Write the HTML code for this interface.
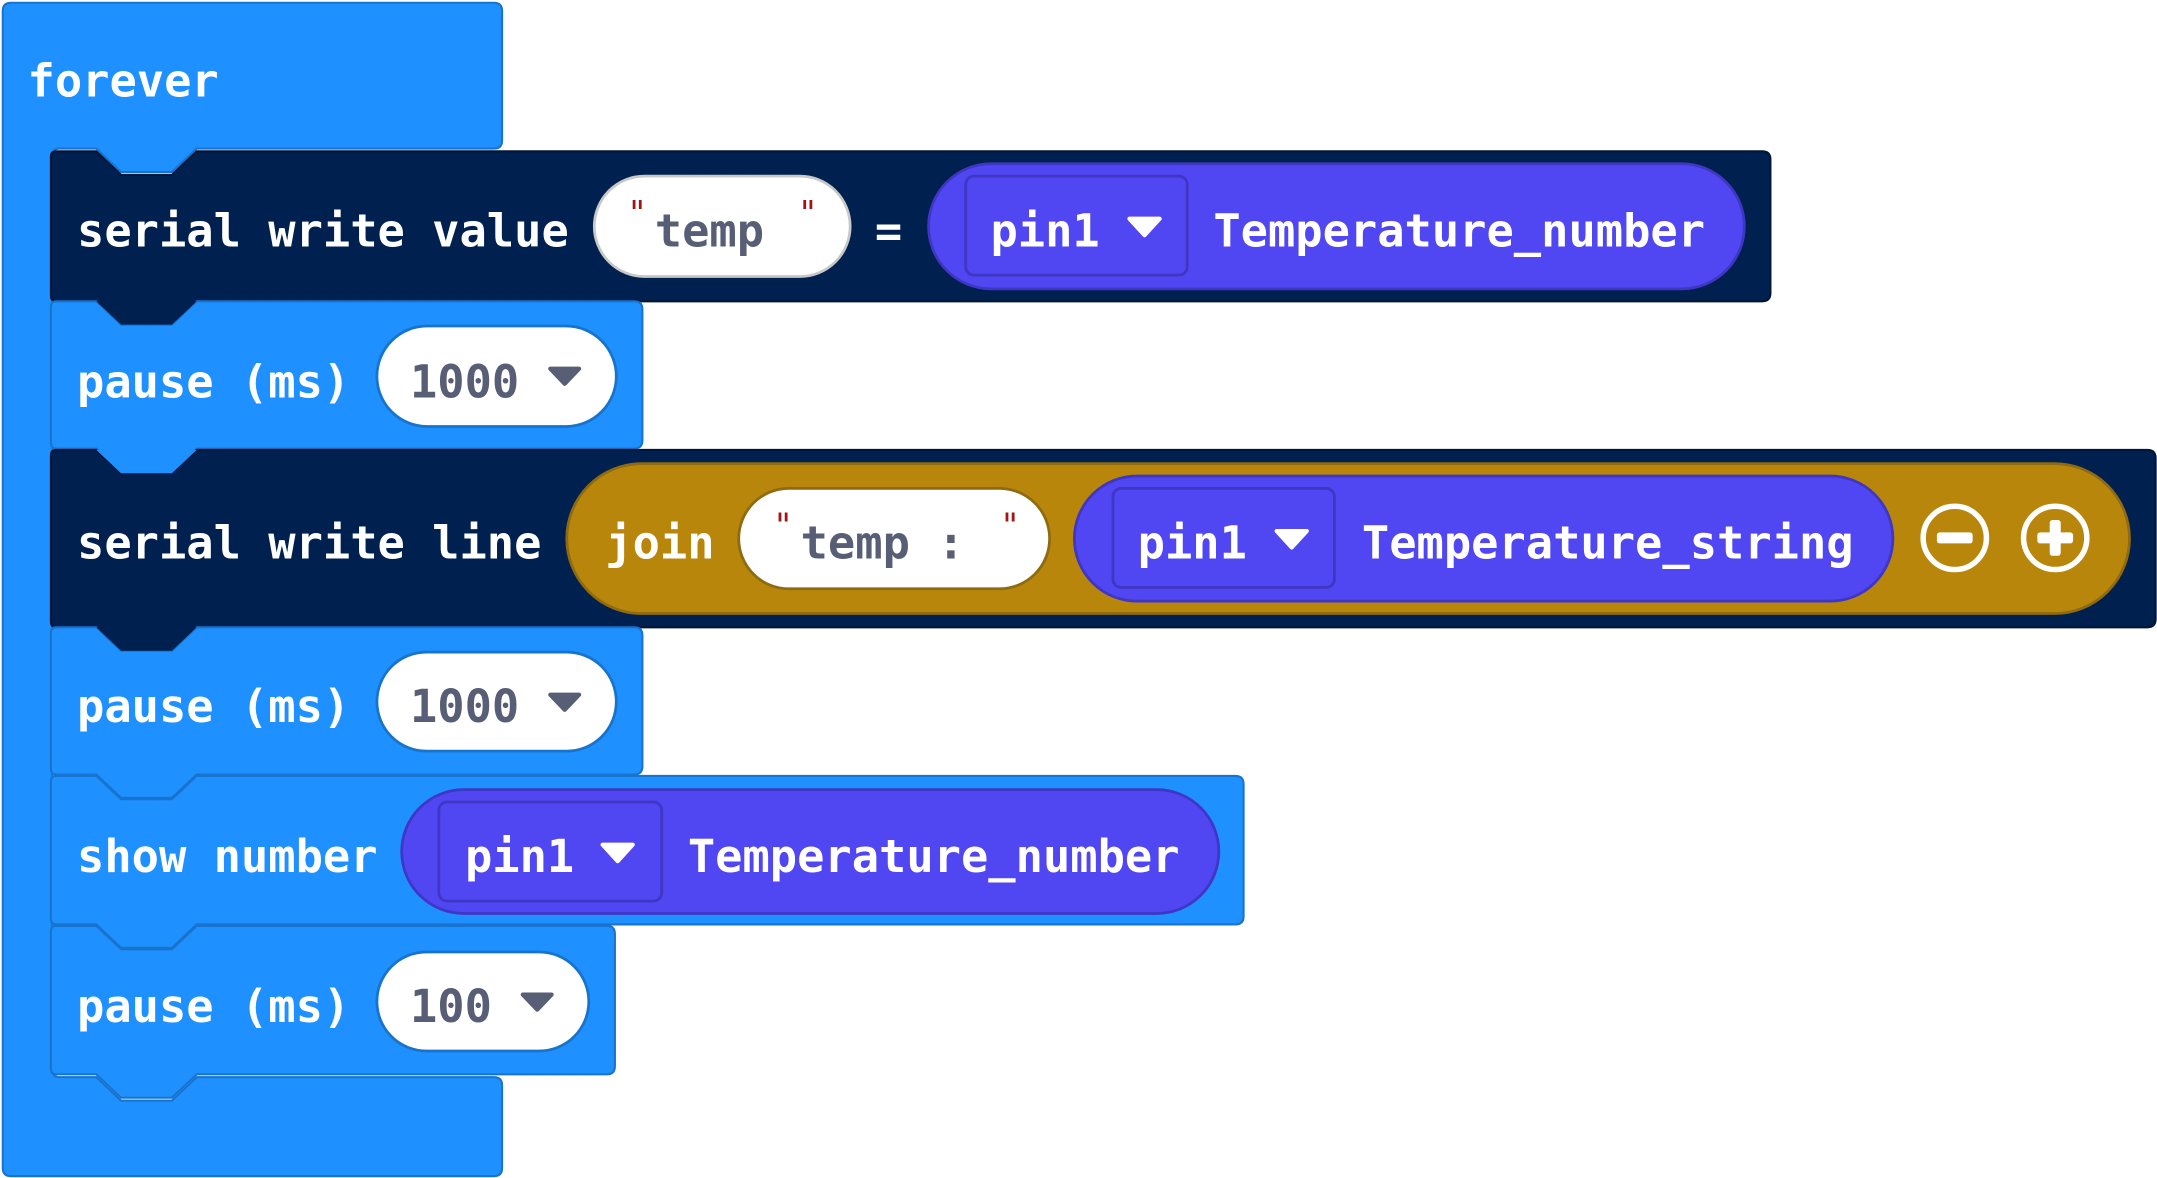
<!DOCTYPE html>
<html><head><meta charset="utf-8"><style>
html,body{margin:0;padding:0;background:#fff;}
svg{display:block;}
text{font-family:"DejaVu Sans Mono","Liberation Mono",monospace;font-weight:bold;font-size:33px;}
.w{fill:#fff;}
.g{fill:#575e75;}
.q{fill:#a31515;font-size:24px;font-weight:normal;}
</style></head><body>
<svg width="2157" height="1178" viewBox="0 0 1568 856.3" xmlns="http://www.w3.org/2000/svg">
<!-- forever -->
<path d="M2,8 Q2,2 8,2 L359,2 Q365,2 365,8 L365,102 Q365,108 359,108 L143,108 L125,125 L88,125 L70,108 L43,108 Q38,108 38,114 L38,777 Q38,783 43,783 L70,783 L88,800 L125,800 L143,783 L359,783 Q365,783 365,789 L365,849 Q365,855 359,855 L8,855 Q2,855 2,849 Z" fill="#1e90ff" stroke="#1873cc" stroke-width="1.5"/>
<text x="20" y="70" class="w">forever</text>

<!-- serial write value -->
<path d="M37,114 Q37,110 41,110 L70,110 L88,127 L125,127 L143,110 L1281,110 Q1287,110 1287,116 L1287,213 Q1287,219 1281,219 L143,219 L125,236 L88,236 L70,219 L41,219 Q37,219 37,215 Z" fill="#002050" stroke="#001638" stroke-width="1.5"/>
<text x="56" y="179" class="w">serial write value</text>
<rect x="432" y="128" width="186" height="73" rx="36.5" fill="#fff" stroke="#c8c8c8" stroke-width="2"/>
<text x="456" y="163" class="q">"</text><text x="580" y="163" class="q">"</text>
<text x="476" y="179" class="g">temp</text>
<text x="636" y="179" class="w">=</text>
<rect x="675" y="119" width="593" height="91" rx="45.5" fill="#5046f2" stroke="#3f36c4" stroke-width="2"/>
<rect x="702" y="128" width="161" height="72" rx="6" fill="#5046f2" stroke="#3f36c4" stroke-width="2"/>
<text x="720" y="179" class="w">pin1</text>
<path d="M821,159 L843,159 L832,171 Z" fill="#fff" stroke="#fff" stroke-width="3" stroke-linejoin="round"/>
<text x="882" y="179" class="w">Temperature_number</text>

<!-- pause 1 -->
<path d="M37,223 Q37,219 41,219 L70,219 L88,236 L125,236 L143,219 L461,219 Q467,219 467,225 L467,320 Q467,326 461,326 L143,326 L125,343 L88,343 L70,326 L41,326 Q37,326 37,322 Z" fill="#1e90ff" stroke="#1873cc" stroke-width="1.5"/>
<path d="M70,219 L88,236 L125,236 L143,219 Z" fill="#002050"/>
<text x="56" y="289" class="w">pause (ms)</text>
<rect x="274" y="237" width="174" height="73" rx="36.5" fill="#fff" stroke="#1873cc" stroke-width="2"/>
<text x="298" y="289" class="g">1000</text>
<path d="M400,268 L421,268 L410.5,279 Z" fill="#575e75" stroke="#575e75" stroke-width="3" stroke-linejoin="round"/>

<!-- serial write line -->
<path d="M37,331 Q37,327 41,327 L70,327 L88,344 L125,344 L143,327 L1561,327 Q1567,327 1567,333 L1567,450 Q1567,456 1561,456 L143,456 L125,473 L88,473 L70,456 L41,456 Q37,456 37,452 Z" fill="#002050" stroke="#001638" stroke-width="1.5"/>
<path d="M70,327 L88,344 L125,344 L143,327 Z" fill="#1e90ff"/>
<text x="56" y="406" class="w">serial write line</text>
<rect x="412" y="337" width="1136" height="109" rx="54.5" fill="#b8860b" stroke="#8e6a10" stroke-width="2"/>
<text x="440" y="406" class="w">join</text>
<rect x="537" y="355" width="226" height="73" rx="36.5" fill="#fff" stroke="#8e6a10" stroke-width="2"/>
<text x="562" y="390" class="q">"</text><text x="727" y="390" class="q">"</text>
<text x="582" y="406" class="g">temp :</text>
<rect x="781" y="346" width="595" height="91" rx="45.5" fill="#5046f2" stroke="#3f36c4" stroke-width="2"/>
<rect x="809" y="355" width="161" height="72" rx="6" fill="#5046f2" stroke="#3f36c4" stroke-width="2"/>
<text x="827" y="406" class="w">pin1</text>
<path d="M928,386 L950,386 L939,398 Z" fill="#fff" stroke="#fff" stroke-width="3" stroke-linejoin="round"/>
<text x="990" y="406" class="w">Temperature_string</text>
<circle cx="1421" cy="391" r="23" fill="none" stroke="#fff" stroke-width="4"/>
<rect x="1408" y="387" width="26" height="8" rx="2" fill="#fff"/>
<circle cx="1494" cy="391" r="23" fill="none" stroke="#fff" stroke-width="4"/>
<rect x="1481" y="387" width="26" height="8" rx="2" fill="#fff"/>
<rect x="1490" y="378" width="8" height="26" rx="2" fill="#fff"/>

<!-- pause 2 -->
<path d="M37,460 Q37,456 41,456 L70,456 L88,473 L125,473 L143,456 L461,456 Q467,456 467,462 L467,557 Q467,563 461,563 L143,563 L125,580 L88,580 L70,563 L41,563 Q37,563 37,559 Z" fill="#1e90ff" stroke="#1873cc" stroke-width="1.5"/>
<path d="M70,456 L88,473 L125,473 L143,456 Z" fill="#002050"/>
<text x="56" y="525" class="w">pause (ms)</text>
<rect x="274" y="474" width="174" height="72" rx="36" fill="#fff" stroke="#1873cc" stroke-width="2"/>
<text x="298" y="525" class="g">1000</text>
<path d="M400,505 L421,505 L410.5,516 Z" fill="#575e75" stroke="#575e75" stroke-width="3" stroke-linejoin="round"/>

<!-- show number -->
<path d="M37,568 Q37,564 41,564 L70,564 L88,581 L125,581 L143,564 L898,564 Q904,564 904,570 L904,666 Q904,672 898,672 L143,672 L125,689 L88,689 L70,672 L41,672 Q37,672 37,668 Z" fill="#1e90ff" stroke="#1873cc" stroke-width="1.5"/>
<text x="56" y="634" class="w">show number</text>
<rect x="292" y="574" width="594" height="90" rx="45" fill="#5046f2" stroke="#3f36c4" stroke-width="2"/>
<rect x="319" y="583" width="162" height="72" rx="6" fill="#5046f2" stroke="#3f36c4" stroke-width="2"/>
<text x="338" y="634" class="w">pin1</text>
<path d="M438,614 L460,614 L449,626 Z" fill="#fff" stroke="#fff" stroke-width="3" stroke-linejoin="round"/>
<text x="500" y="634" class="w">Temperature_number</text>

<!-- pause 3 -->
<path d="M37,677 Q37,673 41,673 L70,673 L88,690 L125,690 L143,673 L441,673 Q447,673 447,679 L447,775 Q447,781 441,781 L143,781 L125,798 L88,798 L70,781 L41,781 Q37,781 37,777 Z" fill="#1e90ff" stroke="#1873cc" stroke-width="1.5"/>
<text x="56" y="743" class="w">pause (ms)</text>
<rect x="274" y="692" width="154" height="72" rx="36" fill="#fff" stroke="#1873cc" stroke-width="2"/>
<text x="298" y="743" class="g">100</text>
<path d="M380,723 L401,723 L390.5,734 Z" fill="#575e75" stroke="#575e75" stroke-width="3" stroke-linejoin="round"/>
</svg>
</body></html>
